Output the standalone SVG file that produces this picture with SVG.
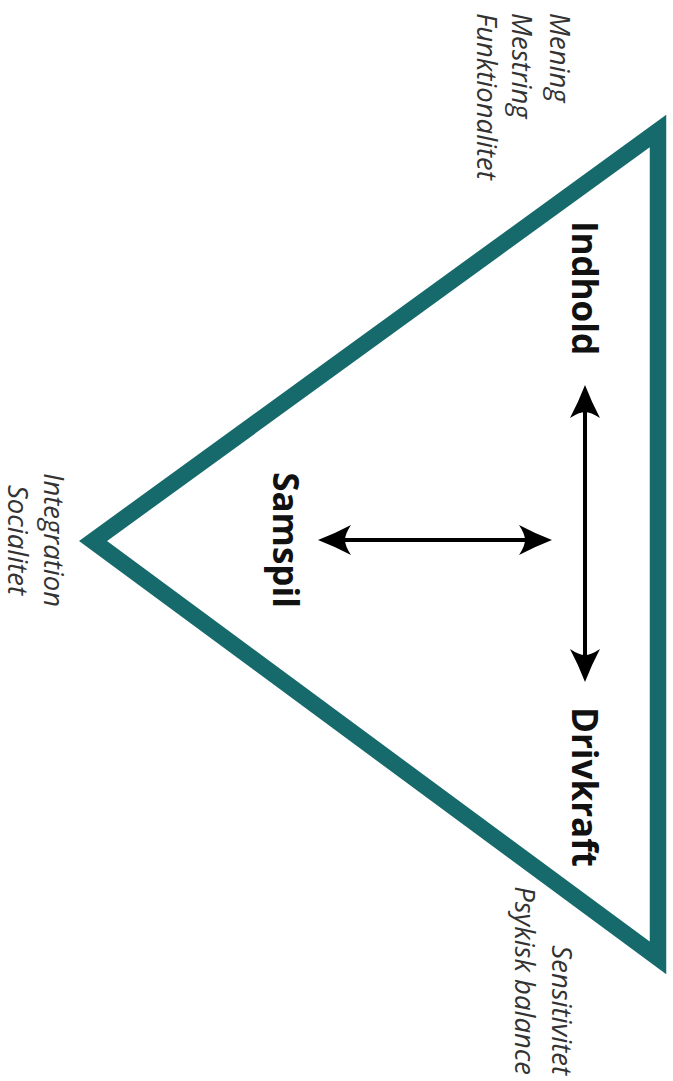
<svg xmlns="http://www.w3.org/2000/svg" width="673" height="1081" viewBox="0 0 673 1081">
<style>
.tri{fill:none;stroke:#176a6b;stroke-width:16.5;stroke-linejoin:miter;stroke-miterlimit:10}
.bold{font-family:"Open Sans","Liberation Sans",sans-serif;font-weight:700;font-size:35px;fill:#111}
.it{font-family:"Open Sans","Liberation Sans",sans-serif;font-style:italic;font-size:27.5px;fill:#333}
.arr{stroke:#000;stroke-width:4;fill:none}
</style>
<defs>
<marker id="ah" markerUnits="userSpaceOnUse" orient="auto-start-reverse" refX="0" refY="0" markerWidth="40" markerHeight="40" overflow="visible">
<path d="M20,0 Q2,-7 -13,-15 Q-7,-6 -7,0 Q-7,6 -13,15 Q2,7 20,0 Z" fill="#000"/>
</marker>
</defs>
<rect width="673" height="1081" fill="#fff"/>
<g id="triangle">
<polygon class="tri" points="658,131 658,958 93,541"/>
</g>
<g id="connectors">
<line class="arr" x1="585" y1="405" x2="585" y2="662" marker-start="url(#ah)" marker-end="url(#ah)"/>
<line class="arr" x1="338" y1="540" x2="532" y2="540" marker-start="url(#ah)" marker-end="url(#ah)"/>
</g>
<g id="indhold"><text class="bold" text-anchor="middle" transform="translate(572,288) rotate(90)">Indhold</text></g>
<g id="drivkraft"><text class="bold" text-anchor="middle" transform="translate(572,787) rotate(90)">Drivkraft</text></g>
<g id="samspil"><text class="bold" text-anchor="middle" transform="translate(273,540) rotate(90)">Samspil</text></g>
<g id="top-labels">
<text class="it" transform="translate(550,13) rotate(90)">Mening</text>
<text class="it" transform="translate(512,13) rotate(90)">Mestring</text>
<text class="it" transform="translate(477,13) rotate(90)">Funktionalitet</text>
</g>
<g id="left-labels">
<text class="it" text-anchor="middle" transform="translate(44,540) rotate(90)">Integration</text>
<text class="it" text-anchor="middle" transform="translate(8,540) rotate(90)">Socialitet</text>
</g>
<g id="bottom-labels">
<text class="it" text-anchor="end" transform="translate(552,1075) rotate(90)">Sensitivitet</text>
<text class="it" text-anchor="end" transform="translate(515,1075) rotate(90)">Psykisk balance</text>
</g>
</svg>
